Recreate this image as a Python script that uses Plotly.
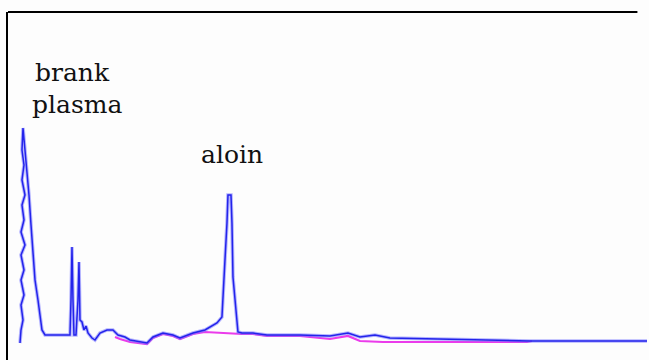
import plotly.graph_objects as go

# Chromatogram of a plasma sample spiked with aloin (retention time in min, detector response)
sample_time = [
    0.344, 0.375, 0.438, 0.375, 0.469, 0.375, 0.469, 0.375, 0.500, 0.375,
    0.469, 0.406, 0.500, 0.406, 0.469, 0.406, 0.438, 0.500, 0.563, 0.625,
    0.688, 0.750, 0.813, 0.906, 0.969, 1.031, 1.125, 1.906, 1.938, 1.969,
    2.000, 2.031, 2.094, 2.156, 2.188, 2.219, 2.281, 2.344, 2.406, 2.469,
    2.594, 2.688, 2.844, 3.063, 3.250, 3.406, 3.625, 3.781, 4.313, 4.500,
    4.813, 5.125, 5.344, 5.750, 6.125, 6.500, 6.656, 6.688, 6.750, 6.813,
    6.844, 6.938, 6.969, 7.000, 7.063, 7.125, 7.156, 7.281, 7.625, 8.063,
    8.469, 9.094, 10.031, 10.594, 10.969, 11.438, 11.906, 13.781, 15.344, 16.281,
    20.000,
]
sample_signal = [
    -2, 11, 21, 36, 46, 61, 71, 86, 96, 109,
    121, 136, 146, 161, 176, 191, 213, 191, 173, 146,
    116, 91, 61, 41, 26, 11, 6, 6, 41, 94,
    41, 6, 6, 41, 79, 21, 19, 11, 15, 8,
    3, 1, 8, 11, 11, 6, 4, 1, -2, 4,
    8, 6, 3, 8, 11, 18, 24, 48, 81, 118,
    146, 146, 118, 64, 38, 21, 9, 8, 8, 6,
    6, 6, 5, 8, 4, 6, 3, 2, 1, 0,
    0,
]

# Blank plasma run overlaid on the same axes
blank_time = [
    3.313, 3.469, 3.781, 4.313, 4.500, 4.813, 5.125, 5.344, 5.750, 6.125,
    7.281, 7.625, 8.063, 8.469, 9.094, 10.031, 10.594, 10.969, 11.688, 13.781,
    15.344, 16.188, 16.344,
]
blank_signal = [
    4, 2, -1, -3, 3, 7, 5, 2, 7, 9,
    7, 7, 5, 5, 5, 2, 5, 0, -1, -1,
    -1, -1, 0,
]

labels = ["brank", "plasma", "aloin"]
label_time = [0.75, 0.66, 5.93]
label_signal = [269, 237, 187]

fig = go.Figure()

fig.add_trace(go.Scatter(
    x=blank_time, y=blank_signal, mode="lines",
    line=dict(color="rgb(235,60,235)", width=2.2),
    hoverinfo="skip",
))
# soft halo under the sample trace
fig.add_trace(go.Scatter(
    x=sample_time, y=sample_signal, mode="lines",
    line=dict(color="rgba(120,120,255,0.55)", width=3.5),
    hoverinfo="skip",
))
fig.add_trace(go.Scatter(
    x=sample_time, y=sample_signal, mode="lines",
    line=dict(color="rgb(35,35,235)", width=1.5),
))

for text, tx, ty in zip(labels, label_time, label_signal):
    fig.add_annotation(
        x=tx, y=ty, xref="x", yref="y", text=text, showarrow=False,
        xanchor="left", yanchor="middle",
        font=dict(family="DejaVu Serif", size=25, color="#111111"),
    )

# frame: left rule from the y axis, top rule across the plot
fig.add_shape(type="line", xref="paper", yref="paper", x0=0, x1=0.985, y0=1, y1=1,
              line=dict(color="black", width=2), layer="above")

fig.update_layout(
    width=649, height=360,
    margin=dict(l=8, r=2, t=12, b=0),
    paper_bgcolor="#fdfdfd", plot_bgcolor="#fdfdfd",
    showlegend=False,
    xaxis=dict(range=[-0.031, 19.94], showline=False, showgrid=False,
               zeroline=False, showticklabels=False, ticks=""),
    yaxis=dict(range=[-19, 329], showline=True, linecolor="black", linewidth=2,
               mirror=False, showgrid=False, zeroline=False,
               showticklabels=False, ticks=""),
)

fig.write_html(
    "out.html",
    config={"displayModeBar": False},
    post_script="document.documentElement.style.overflow='hidden';"
                "document.body.style.overflow='hidden';"
                "document.body.style.margin='0';",
)
